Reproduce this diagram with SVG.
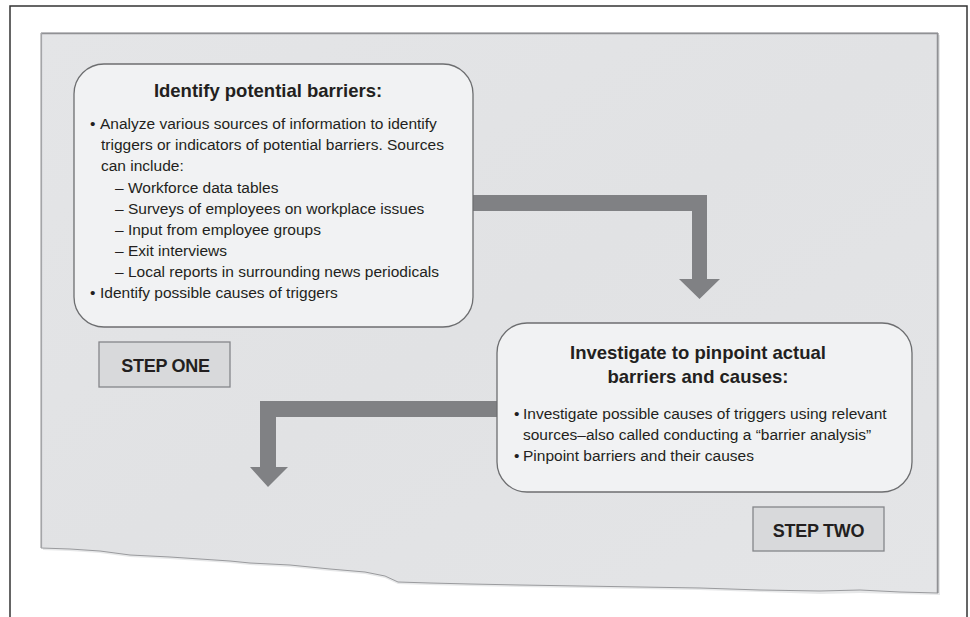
<svg xmlns="http://www.w3.org/2000/svg" width="970" height="617" viewBox="0 0 970 617">
<defs>
<style>
.box{fill:#f1f2f3;stroke:#6d6e70;stroke-width:1.3}
.step{fill:#d8d9db;stroke:#85868a;stroke-width:1.3}
.t{font-family:"Liberation Sans",Arial,sans-serif;fill:#231f20}
.title{font-size:18.5px;font-weight:bold;text-anchor:middle}
.body{font-size:15.5px}
.steptxt{font-size:18px;font-weight:bold;text-anchor:middle;letter-spacing:-0.3px}
.arrow{fill:#808184}
</style>
<linearGradient id="paper" x1="0" y1="0" x2="1" y2="1">
<stop offset="0" stop-color="#e4e5e7"/>
<stop offset="0.5" stop-color="#e1e2e4"/>
<stop offset="1" stop-color="#e4e5e7"/>
</linearGradient>
</defs>
<rect x="0" y="0" width="970" height="617" fill="#ffffff"/>
<rect x="10" y="6" width="957" height="620" fill="#ffffff" stroke="#333333" stroke-width="1.5"/>
<g id="paper-sheet">
<path d="M43,35 L940,35 L940,595 L900,594 L860,593 L820,594 L760,592 L700,590 L640,589 L580,588 L520,587 L470,586 L430,585 L398,584 L385,578 L365,574 L330,571 L290,567 L250,565 L230,563 L200,561 L170,559 L150,558 L130,557 L100,553 L70,551 L43,550 Z" fill="#d0d1d3" opacity="0.5"/>
<path d="M41,33 L938,33 L938,593 L900,592 L860,590 L820,591 L760,590 L700,588 L640,587 L580,586 L520,585 L470,584 L430,583 L398,582 L385,576 L365,572 L330,569 L290,565 L250,563 L230,561 L200,559 L170,557 L150,556 L130,555 L100,551 L70,549 L41,548 Z" fill="url(#paper)" stroke="#9a9b9e" stroke-width="1"/>
<line x1="41" y1="33.5" x2="938" y2="33.5" stroke="#909194" stroke-width="1.5"/>
<line x1="937.5" y1="33" x2="937.5" y2="593" stroke="#909194" stroke-width="1.5"/>
<line x1="41.5" y1="33" x2="41.5" y2="548" stroke="#a4a5a8" stroke-width="1.2"/>
</g>
<g id="connectors">
<path class="arrow" d="M473,195 L707,195 L707,279 L720,279 L699.5,299 L679,279 L692,279 L692,211 L473,211 Z"/>
<path class="arrow" d="M497,401 L260,401 L260,467 L250,467 L268,487 L288,467 L276,467 L276,417 L497,417 Z"/>
</g>
<g id="node-identify">
<rect class="box" x="74" y="64" width="399" height="263" rx="30" ry="30"/>
<text class="t title" x="268" y="97">Identify potential barriers:</text>
<text class="t body" x="90" y="129">•</text>
<text class="t body" x="100" y="129">Analyze various sources of information to identify</text>
<text class="t body" x="101" y="150">triggers or indicators of potential barriers. Sources</text>
<text class="t body" x="101" y="171">can include:</text>
<text class="t body" x="115" y="193">– Workforce data tables</text>
<text class="t body" x="115" y="214">– Surveys of employees on workplace issues</text>
<text class="t body" x="115" y="235">– Input from employee groups</text>
<text class="t body" x="115" y="256">– Exit interviews</text>
<text class="t body" x="115" y="277">– Local reports in surrounding news periodicals</text>
<text class="t body" x="90" y="298">•</text>
<text class="t body" x="100" y="298">Identify possible causes of triggers</text>
</g>
<g id="node-step-one">
<rect class="step" x="99" y="342" width="131" height="45"/>
<text class="t steptxt" x="165.5" y="372">STEP ONE</text>
</g>
<g id="node-investigate">
<rect class="box" x="497" y="323" width="415" height="169" rx="30" ry="30"/>
<text class="t title" x="698" y="359">Investigate to pinpoint actual</text>
<text class="t title" x="698" y="383">barriers and causes:</text>
<text class="t body" x="514" y="419">•</text>
<text class="t body" x="523" y="419">Investigate possible causes of triggers using relevant</text>
<text class="t body" x="523" y="440">sources–also called conducting a “barrier analysis”</text>
<text class="t body" x="514" y="461">•</text>
<text class="t body" x="523" y="461">Pinpoint barriers and their causes</text>
</g>
<g id="node-step-two">
<rect class="step" x="753" y="507" width="131" height="44"/>
<text class="t steptxt" x="818.5" y="537">STEP TWO</text>
</g>
</svg>
